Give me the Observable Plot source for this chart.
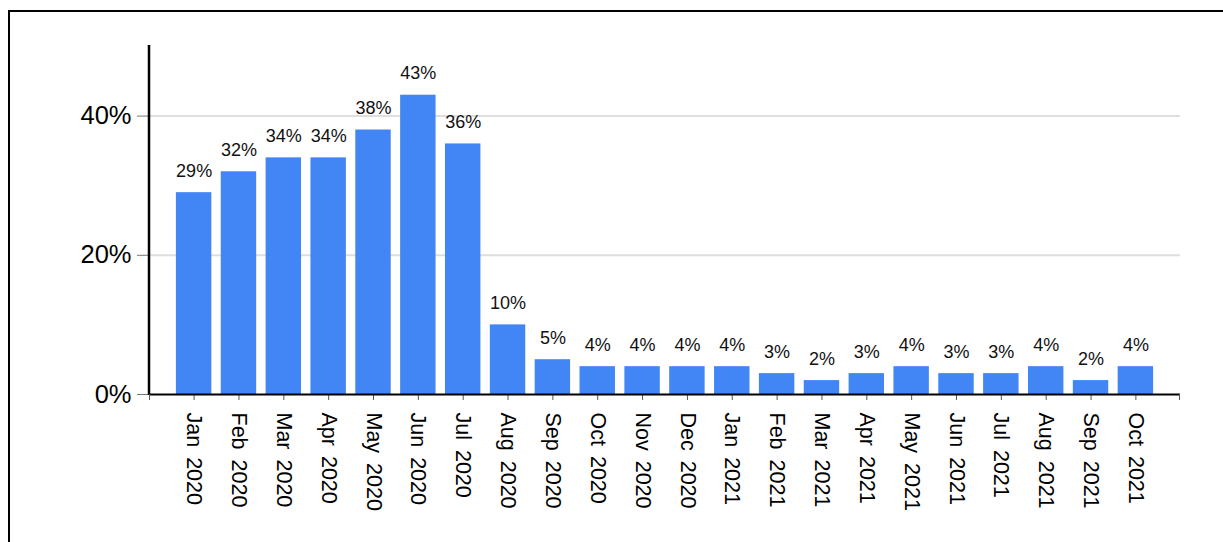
<!DOCTYPE html>
<html><head><meta charset="utf-8">
<script src="https://cdn.jsdelivr.net/npm/d3@7"></script>
<script src="https://cdn.jsdelivr.net/npm/@observablehq/plot@0.6"></script>
<style>
html,body{margin:0;padding:0;background:#fff;}
#wrap{position:relative;width:1223px;height:542px;overflow:hidden;}
#box{position:absolute;left:8px;top:10px;width:1400px;height:700px;border-left:2px solid #000;border-top:2px solid #000;}
#chart{position:absolute;left:0;top:0;}
</style></head><body>
<div id="wrap"><div id="box"></div><div id="chart"></div></div>
<script>
const months = ["Jan 2020","Feb 2020","Mar 2020","Apr 2020","May 2020","Jun 2020","Jul 2020","Aug 2020","Sep 2020","Oct 2020","Nov 2020","Dec 2020","Jan 2021","Feb 2021","Mar 2021","Apr 2021","May 2021","Jun 2021","Jul 2021","Aug 2021","Sep 2021","Oct 2021"];
const shares = [29,32,34,34,38,43,36,10,5,4,4,4,4,3,2,3,4,3,3,4,2,4];
const yTicks = [0,20,40];
const yMax = 50;

const data = months.map((m,i)=>({month:m, share:shares[i]}));

const W = 1223, H = 542, ML = 149, MR = 43, MT = 46, MB = 148;

function axisFrame(index, scales, values, dimensions) {
  const d = dimensions || {width:W, height:H, marginLeft:ML, marginRight:MR, marginTop:MT, marginBottom:MB};
  const x0 = d.marginLeft, x1 = d.width - d.marginRight;
  const y0 = d.height - d.marginBottom, yTop = d.marginTop - 1;
  const g = d3.create("svg:g").attr("fill","none");
  g.append("line").attr("x1",x0).attr("x2",x0).attr("y1",yTop).attr("y2",y0+1).attr("stroke","#000").attr("stroke-width",2.5);
  g.append("line").attr("x1",x0).attr("x2",x1).attr("y1",y0+0.5).attr("y2",y0+0.5).attr("stroke","#000").attr("stroke-width",2);
  g.append("line").attr("x1",x0+0.5).attr("x2",x0+0.5).attr("y1",y0).attr("y2",y0+6).attr("stroke","#555").attr("stroke-width",1);
  g.append("line").attr("x1",x1-0.5).attr("x2",x1-0.5).attr("y1",y0).attr("y2",y0+6).attr("stroke","#555").attr("stroke-width",1);
  return g.node();
}

const chart = Plot.plot({
  width: W, height: H,
  marginLeft: ML, marginRight: MR, marginTop: MT, marginBottom: MB,
  style: {fontFamily: "'Liberation Sans', Arial, sans-serif", color: "#000", background: "transparent", overflow: "visible"},
  x: {type: "band", domain: months, paddingInner: 0.21, paddingOuter: 0.6, align: 0.5, round: false, label: null},
  y: {domain: [0, yMax], label: null},
  marks: [
    Plot.ruleY(yTicks.filter(t => t > 0), {stroke: "#dedede", strokeWidth: 2}),
    Plot.barY(data, {x: "month", y: "share", fill: "#4285f4"}),
    Plot.text(data, {x: "month", y: "share", text: d => d.share + "%", dy: -16, lineAnchor: "bottom", fontSize: 18, fill: "#111"}),
    Plot.axisX({tickSize: 6, tickPadding: 12, tickRotate: 90, fontSize: 21.5, stroke: "#555", fill: "#000", label: null}),
    Plot.axisY({ticks: yTicks, tickFormat: d => d + "%", tickSize: 12, tickPadding: 6, fontSize: 25.5, stroke: "#777", fill: "#000", label: null}),
    axisFrame
  ]
});
d3.select(chart).selectAll('g[aria-label="x-axis tick label"] text').style("word-spacing", "4px");
document.getElementById("chart").appendChild(chart);
</script>
</body></html>
